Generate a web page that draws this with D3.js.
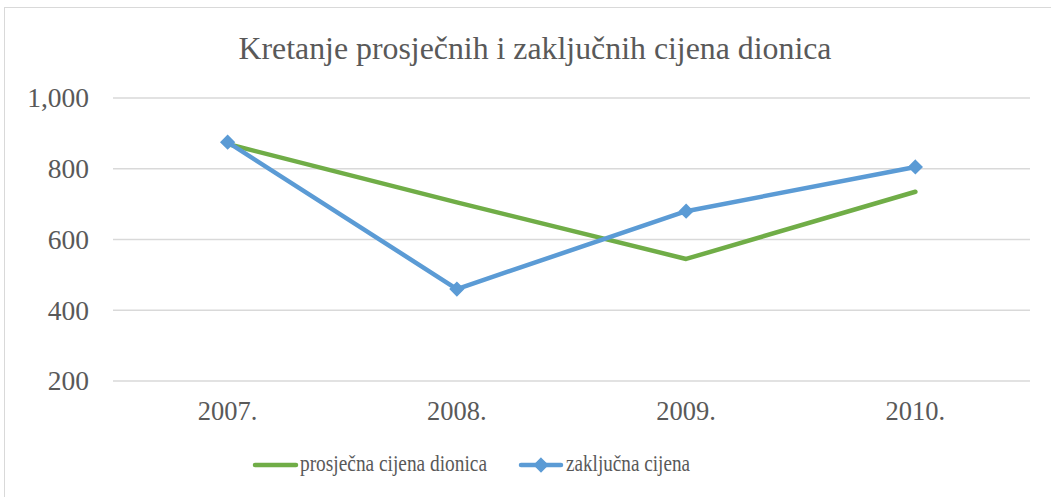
<!DOCTYPE html>
<html>
<head>
<meta charset="utf-8">
<script src="https://cdn.jsdelivr.net/npm/d3@7"></script>
<style>
  body { margin: 0; background: #fff; }
</style>
</head>
<body>
<div id="chart"></div>
<script>
// podaci
const years = ['2007.', '2008.', '2009.', '2010.'];
const prosjecna = [870, 705, 545, 735];
const zakljucna = [875, 460, 680, 805];
const yTicks = [200, 400, 600, 800, 1000];

const width = 1051, height = 497;
const margin = { top: 98, right: 21, bottom: 116, left: 113 };
const FONT = '"Liberation Serif", "Times New Roman", serif';
const TEXT = '#595959';

const svg = d3.select('#chart').append('svg')
    .attr('width', width)
    .attr('height', height);

// okvir
svg.append('rect')
    .attr('x', 4.5).attr('y', 7.5)
    .attr('width', width + 10).attr('height', height + 10)
    .attr('fill', '#fff')
    .attr('stroke', '#d9d9d9');

const x = d3.scaleBand()
    .domain(years)
    .range([margin.left, width - margin.right]);

const y = d3.scaleLinear()
    .domain([200, 1000])
    .range([height - margin.bottom, margin.top]);

// mreža
svg.append('g')
    .selectAll('line')
    .data(yTicks)
    .join('line')
    .attr('x1', margin.left).attr('x2', width - margin.right)
    .attr('y1', d => y(d)).attr('y2', d => y(d))
    .attr('stroke', '#d9d9d9')
    .attr('stroke-width', 1.3);

// os Y
const yAxis = svg.append('g')
    .attr('transform', 'translate(89,0)')
    .call(d3.axisLeft(y).tickValues(yTicks).tickSize(0).tickPadding(0).tickFormat(d3.format(',')));
yAxis.select('.domain').remove();
yAxis.selectAll('text')
    .style('font-family', FONT)
    .style('font-size', '27.5px')
    .attr('fill', TEXT);

// os X
const xAxis = svg.append('g')
    .attr('transform', `translate(0,${height - margin.bottom})`)
    .call(d3.axisBottom(x).tickSize(0).tickPadding(20));
xAxis.select('.domain').remove();
xAxis.selectAll('text')
    .style('font-family', FONT)
    .style('font-size', '26.5px')
    .attr('fill', TEXT);

const cx = d => x(d) + x.bandwidth() / 2;

const line = d3.line()
    .x((d, i) => cx(years[i]))
    .y(d => y(d));

svg.append('path')
    .datum(prosjecna)
    .attr('fill', 'none')
    .attr('stroke', '#70ad47')
    .attr('stroke-width', 4.5)
    .attr('stroke-linecap', 'round')
    .attr('stroke-linejoin', 'round')
    .attr('d', line);

svg.append('path')
    .datum(zakljucna)
    .attr('fill', 'none')
    .attr('stroke', '#5b9bd5')
    .attr('stroke-width', 4.5)
    .attr('stroke-linecap', 'round')
    .attr('stroke-linejoin', 'round')
    .attr('d', line);

const diamond = d3.symbol().type(d3.symbolDiamond2).size(110);

svg.append('g')
    .selectAll('path')
    .data(zakljucna)
    .join('path')
    .attr('d', diamond)
    .attr('transform', (d, i) => `translate(${cx(years[i])},${y(d)})`)
    .attr('fill', '#5b9bd5')
    .attr('stroke', '#5b9bd5')
    .attr('stroke-width', 1.5);

// naslov
svg.append('text')
    .attr('x', 535).attr('y', 59)
    .attr('text-anchor', 'middle')
    .attr('textLength', 593)
    .attr('lengthAdjust', 'spacingAndGlyphs')
    .style('font-family', FONT)
    .style('font-size', '31px')
    .attr('fill', TEXT)
    .text('Kretanje prosječnih i zaključnih cijena dionica');

// legenda
const legend = svg.append('g');
legend.append('line')
    .attr('x1', 255).attr('x2', 296)
    .attr('y1', 465).attr('y2', 465)
    .attr('stroke', '#70ad47').attr('stroke-width', 4.5)
    .attr('stroke-linecap', 'round');
legend.append('text')
    .attr('x', 300).attr('y', 471)
    .attr('textLength', 187)
    .attr('lengthAdjust', 'spacingAndGlyphs')
    .style('font-family', FONT)
    .style('font-size', '23px')
    .attr('fill', TEXT)
    .text('prosječna cijena dionica');

legend.append('line')
    .attr('x1', 521).attr('x2', 561)
    .attr('y1', 465).attr('y2', 465)
    .attr('stroke', '#5b9bd5').attr('stroke-width', 4.5)
    .attr('stroke-linecap', 'round');
legend.append('path')
    .attr('d', diamond)
    .attr('transform', 'translate(541,465)')
    .attr('fill', '#5b9bd5')
    .attr('stroke', '#5b9bd5')
    .attr('stroke-width', 1.5);
legend.append('text')
    .attr('x', 566).attr('y', 471)
    .attr('textLength', 124)
    .attr('lengthAdjust', 'spacingAndGlyphs')
    .style('font-family', FONT)
    .style('font-size', '23px')
    .attr('fill', TEXT)
    .text('zaključna cijena');
</script>
</body>
</html>
